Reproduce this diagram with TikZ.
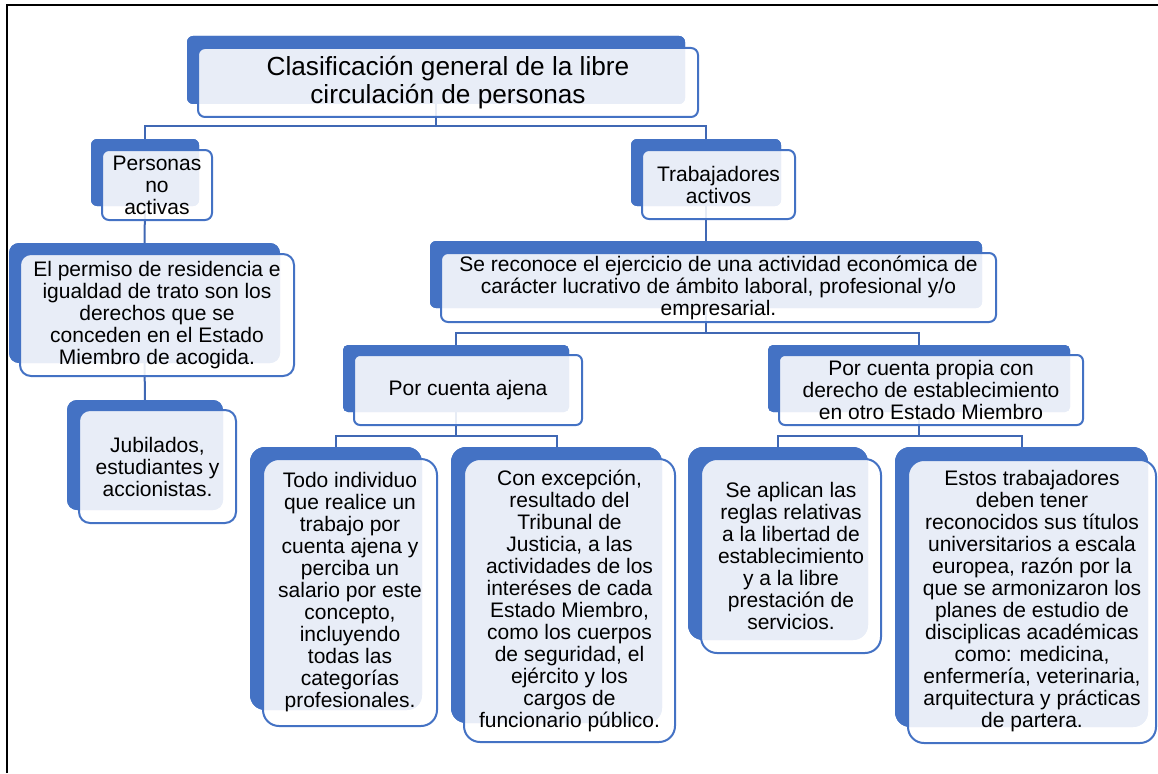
\documentclass[tikz,border=0pt]{standalone}
\usepackage{fontspec}
\setmainfont{Liberation Sans}
\definecolor{bl}{HTML}{4472C4}
\definecolor{cl}{HTML}{4068B4}
\tikzset{
  back/.style={fill=bl, draw=none, inner sep=0pt, outer sep=0pt},
  front/.style={fill=white, fill opacity=0.88, text opacity=1, draw=bl, draw opacity=1,
    line width=2pt, inner sep=0pt, outer sep=0pt, align=center,
    font=\fontsize{21}{22}\selectfont},
  bigtext/.style={font=\fontsize{26.2}{28}\selectfont},
  conn/.style={draw=cl, line width=2pt},
  frame/.style={draw=black, line width=2pt}
}
\newcommand{\mkback}[6]{%
  \node[back, rounded corners=#6pt, minimum width={(#4)-(#2)}, minimum height={(#5)-(#3)}]
    (#1b) at ({((#2)+(#4))/2},{((#3)+(#5))/2}) {};}
\newcommand{\mkfront}[8][]{%
  \node[front, #1, rounded corners=#7pt, minimum width={(#5)-(#3)-2}, minimum height={(#6)-(#4)-2}]
    (#2) at ({((#3)+(#5))/2},{((#4)+(#6))/2}) {#8};}
\begin{document}
\begin{tikzpicture}[x=1pt,y=-1pt]
\useasboundingbox (0,0) rectangle (1158,773);
\draw[frame] (7,773) -- (7,5) -- (1158,5);

% back shapes (needed for connector anchors)
\mkback{top}{187}{36}{685}{104}{6}
\mkback{pna}{91}{139}{199}{206}{6}
\mkback{tra}{631}{139}{781}{206}{6}
\mkback{per}{9}{243}{280}{363}{10}
\mkback{jub}{67}{400}{223}{510}{10}
\mkback{sec}{430}{241}{982}{308}{6}
\mkback{aje}{343}{345}{569}{412}{5}
\mkback{pro}{768}{345}{1070}{412}{5}
\mkback{tod}{250}{447}{422}{710}{15}
\mkback{con}{451}{447}{662}{723}{15}
\mkback{apl}{688}{447}{868}{640}{15}
\mkback{est}{895}{447}{1148}{727}{15}

% bar levels
\coordinate (bar1) at (0,126);
\coordinate (bar2) at (0,333);
\coordinate (bar3) at (0,436);

% connectors
\draw[conn] (topb.south) -- (topb.south |- bar1) -| (pnab.north);
\draw[conn] (topb.south |- bar1) -| (trab.north);
\draw[conn] (pnab.south) -- (perb.north);
\draw[conn] (perb.south) -- (jubb.north);
\draw[conn] (trab.south) -- (secb.north);
\draw[conn] (secb.south) -- (secb.south |- bar2) -| (ajeb.north);
\draw[conn] (secb.south |- bar2) -| (prob.north);
\draw[conn] (ajeb.south) -- (ajeb.south |- bar3) -| (todb.north);
\draw[conn] (ajeb.south |- bar3) -| (conb.north);
\draw[conn] (prob.south) -- (prob.south |- bar3) -| (aplb.north);
\draw[conn] (prob.south |- bar3) -| (estb.north);

% redraw back shapes over connectors
\mkback{top}{187}{36}{685}{104}{6}
\mkback{pna}{91}{139}{199}{206}{6}
\mkback{tra}{631}{139}{781}{206}{6}
\mkback{per}{9}{243}{280}{363}{10}
\mkback{jub}{67}{400}{223}{510}{10}
\mkback{sec}{430}{241}{982}{308}{6}
\mkback{aje}{343}{345}{569}{412}{5}
\mkback{pro}{768}{345}{1070}{412}{5}
\mkback{tod}{250}{447}{422}{710}{15}
\mkback{con}{451}{447}{662}{723}{15}
\mkback{apl}{688}{447}{868}{640}{15}
\mkback{est}{895}{447}{1148}{727}{15}

% front shapes with text
\mkfront[bigtext]{top}{197}{47}{699}{118}{7}{Clasificación general de la libre\\circulación de personas}
\mkfront{pna}{101}{149}{213}{221}{7}{Personas\\no\\activas}
\mkfront{tra}{641}{149}{796}{220}{7}{Trabajadores\\activos}
\mkfront{per}{19}{253}{295}{377}{11}{El permiso de residencia e\\igualdad de trato son los\\derechos que se\\conceden en el Estado\\Miembro de acogida.}
\mkfront{jub}{78}{409}{237}{524}{11}{Jubilados,\\estudiantes y\\accionistas.}
\mkfront{sec}{440}{252}{997}{323}{7}{Se reconoce el ejercicio de una actividad económica de\\carácter lucrativo de ámbito laboral, profesional y/o\\empresarial.}
\mkfront{aje}{353}{354}{583}{426}{6}{Por cuenta ajena}
\mkfront{pro}{778}{354}{1084}{426}{6}{Por cuenta propia con\\derecho de establecimiento\\en otro Estado Miembro}
\mkfront{tod}{262}{458}{438}{727}{16}{Todo individuo\\que realice un\\trabajo por\\cuenta ajena y\\perciba un\\salario por este\\concepto,\\incluyendo\\todas las\\categorías\\profesionales.}
\mkfront{con}{463}{458}{676}{743}{16}{Con excepción,\\resultado del\\Tribunal de\\Justicia, a las\\actividades de los\\interéses de cada\\Estado Miembro,\\como los cuerpos\\de seguridad, el\\ejército y los\\cargos de\\funcionario público.}
\mkfront{apl}{700}{458}{882}{654}{16}{Se aplican las\\reglas relativas\\a la libertad de\\establecimiento\\y a la libre\\prestación de\\servicios.}
\mkfront{est}{907}{459}{1157}{744}{16}{Estos trabajadores\\deben tener\\reconocidos sus títulos\\universitarios a escala\\europea, razón por la\\que se armonizaron los\\planes de estudio de\\disciplicas académicas\\como: medicina,\\enfermería, veterinaria,\\arquitectura y prácticas\\de partera.}
\end{tikzpicture}
\end{document}
